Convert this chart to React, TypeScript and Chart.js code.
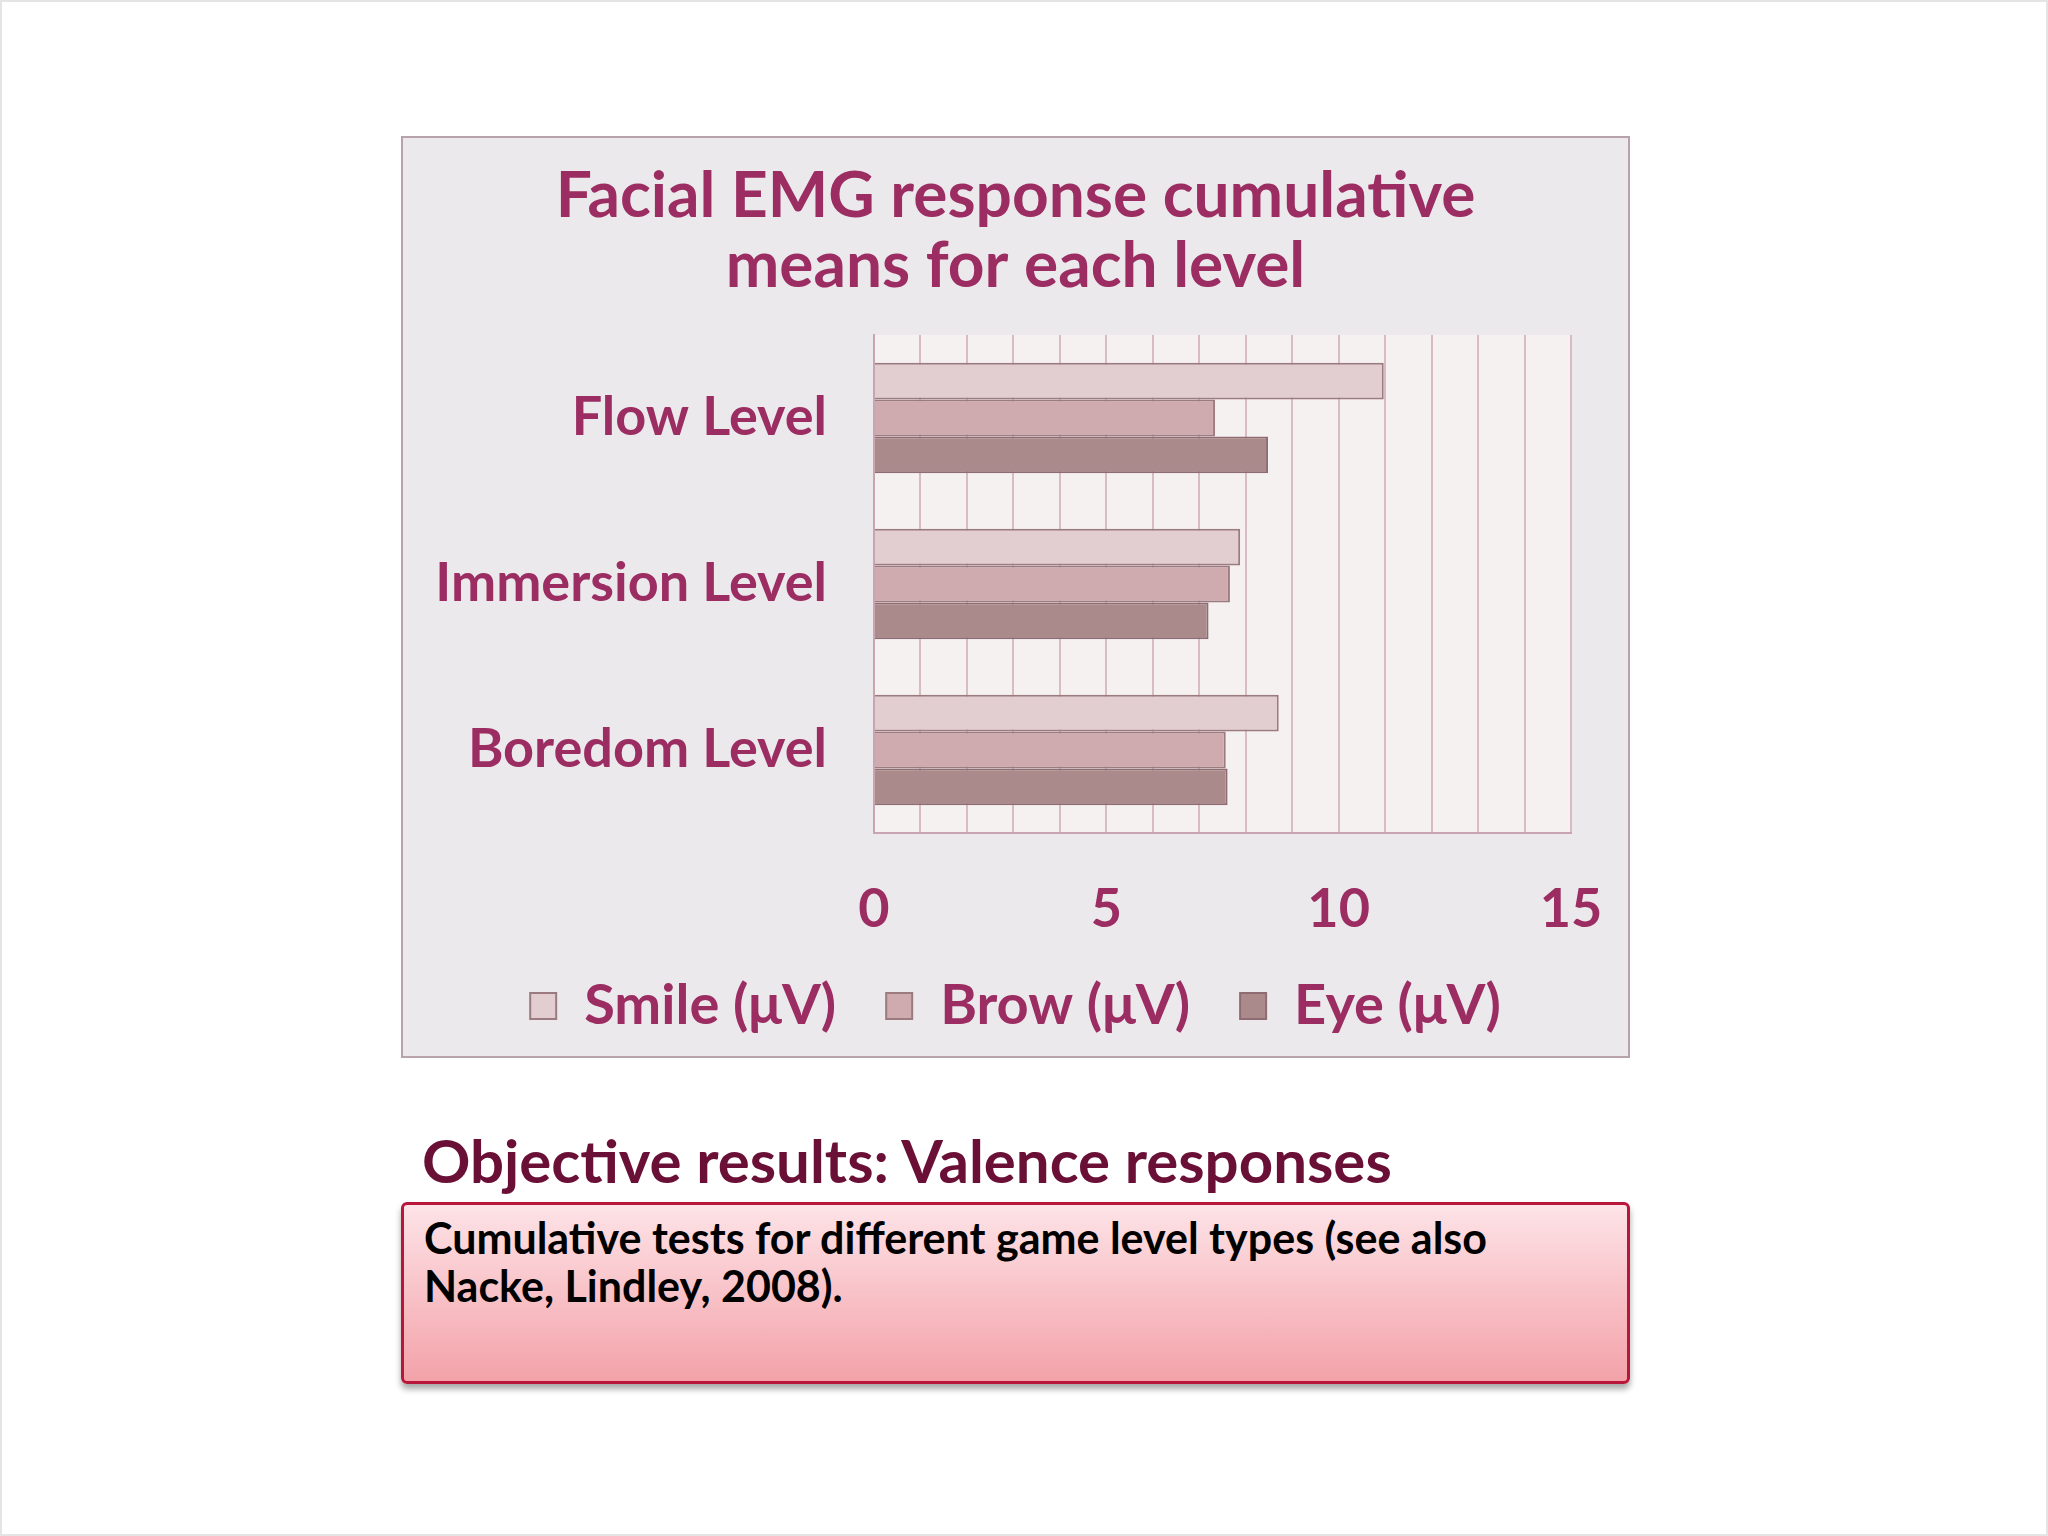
import { useEffect, useRef } from 'react';
import { Chart, registerables } from 'chart.js';

Chart.register(...registerables);

const levels = ['Flow Level', 'Immersion Level', 'Boredom Level'];
const smileValues = [10.97, 7.88, 8.71];
const browValues = [7.34, 7.66, 7.57];
const eyeValues = [8.48, 7.2, 7.61];
const xTicks = [0, 5, 10, 15];

const plum = '#9b2d62';
const fontFamily = 'Lato, "Noto Sans", sans-serif';

// fills the plot area before the grid is drawn
const plotBackground = {
    id: 'plotBackground',
    beforeDraw(chart: Chart) {
        const { ctx, chartArea } = chart;
        if (!chartArea) return;
        ctx.save();
        ctx.fillStyle = '#f6f1f1';
        ctx.fillRect(chartArea.left, chartArea.top, chartArea.right - chartArea.left, chartArea.bottom - chartArea.top);
        ctx.restore();
    }
};

const EmgChart = () => {
    const chartRef = useRef<HTMLCanvasElement | null>(null);

    useEffect(() => {
        if (!chartRef.current) return;
        const ctx = chartRef.current.getContext('2d');
        if (!ctx) return;

        const myChart = new Chart(ctx, {
            type: 'bar',
            data: {
                labels: levels,
                datasets: [
                    { label: 'Smile (μV)', data: smileValues, backgroundColor: '#e2cdd1', borderColor: '#9b7a80', borderWidth: 2 },
                    { label: 'Brow (μV)', data: browValues, backgroundColor: '#cfabaf', borderColor: '#9b7a80', borderWidth: 2 },
                    { label: 'Eye (μV)', data: eyeValues, backgroundColor: '#ab8a8b', borderColor: '#8f6c73', borderWidth: 2 }
                ]
            },
            options: {
                indexAxis: 'y',
                responsive: false,
                animation: false,
                maintainAspectRatio: false,
                layout: { padding: { top: 23, right: 0, bottom: 12, left: 0 } },
                datasets: { bar: { categoryPercentage: 0.667, barPercentage: 1 } },
                scales: {
                    x: {
                        min: 0,
                        max: 15,
                        afterFit: (scale: any) => {
                            scale.height = 95;
                            // keep the plot's right margin independent of the title centring
                            scale.paddingLeft = 0;
                            scale.paddingRight = 57;
                        },
                        ticks: {
                            stepSize: 1,
                            autoSkip: false,
                            maxRotation: 0,
                            padding: 44,
                            color: plum,
                            font: { family: fontFamily, size: 54, weight: 'bold' },
                            callback: (value: any) => (xTicks.includes(Number(value)) ? String(value) : '')
                        },
                        grid: { color: '#d8bcc5', lineWidth: 2, drawTicks: false },
                        border: { color: '#c9a5b1', width: 2 }
                    },
                    y: {
                        afterFit: (scale: any) => { scale.width = 471; },
                        ticks: {
                            padding: 47,
                            color: plum,
                            font: { family: fontFamily, size: 54, weight: 'bold' }
                        },
                        grid: { display: false, drawTicks: false },
                        border: { color: '#c9a5b1', width: 2 }
                    }
                },
                plugins: {
                    title: {
                        display: true,
                        text: ['Facial EMG response cumulative', 'means for each level'],
                        color: plum,
                        font: { family: fontFamily, size: 64, weight: 'bold', lineHeight: 70 / 64 },
                        padding: { top: 0, bottom: 34 }
                    },
                    legend: {
                        position: 'bottom',
                        labels: {
                            color: plum,
                            boxWidth: 26,
                            boxHeight: 26,
                            padding: 50,
                            font: { family: fontFamily, size: 56, weight: 'bold' }
                        }
                    },
                    tooltip: { enabled: false }
                }
            },
            plugins: [plotBackground]
        });

        return () => {
            myChart.destroy();
        };
    }, []);

    return <canvas ref={chartRef} width={1225} height={918} style={{ display: 'block', width: 1225, height: 918 }}></canvas>;
};

const App = () => {
    return (
        <div style={{ position: 'absolute', left: 0, top: 0, width: 2048, height: 1536, background: '#ffffff', boxSizing: 'border-box', border: '2px solid #e4e4e4', fontFamily }}>
            <div style={{ position: 'absolute', left: 399, top: 134, width: 1229, height: 922, boxSizing: 'border-box', border: '2px solid #b9a3ab', background: '#ebe9eb' }}>
                <EmgChart />
            </div>
            <div style={{ position: 'absolute', left: 420, top: 1118, fontSize: 60, fontWeight: 'bold', color: '#6a0f35', lineHeight: '80px', whiteSpace: 'nowrap' }}>
                Objective results: Valence responses
            </div>
            <div style={{
                position: 'absolute', left: 399, top: 1200, width: 1229, height: 182, boxSizing: 'border-box',
                border: '3px solid #b8163a', borderRadius: 6,
                background: 'linear-gradient(to bottom, #fde3e7, #f3a2a9)',
                boxShadow: '0 5px 6px rgba(0,0,0,0.35)'
            }}>
                <div style={{ position: 'absolute', left: 20, top: 9, fontSize: 43, fontWeight: 'bold', color: '#000', lineHeight: '48px', whiteSpace: 'nowrap' }}>
                    Cumulative tests for different game level types (see also<br />Nacke, Lindley, 2008).
                </div>
            </div>
        </div>
    );
};

export default App;
